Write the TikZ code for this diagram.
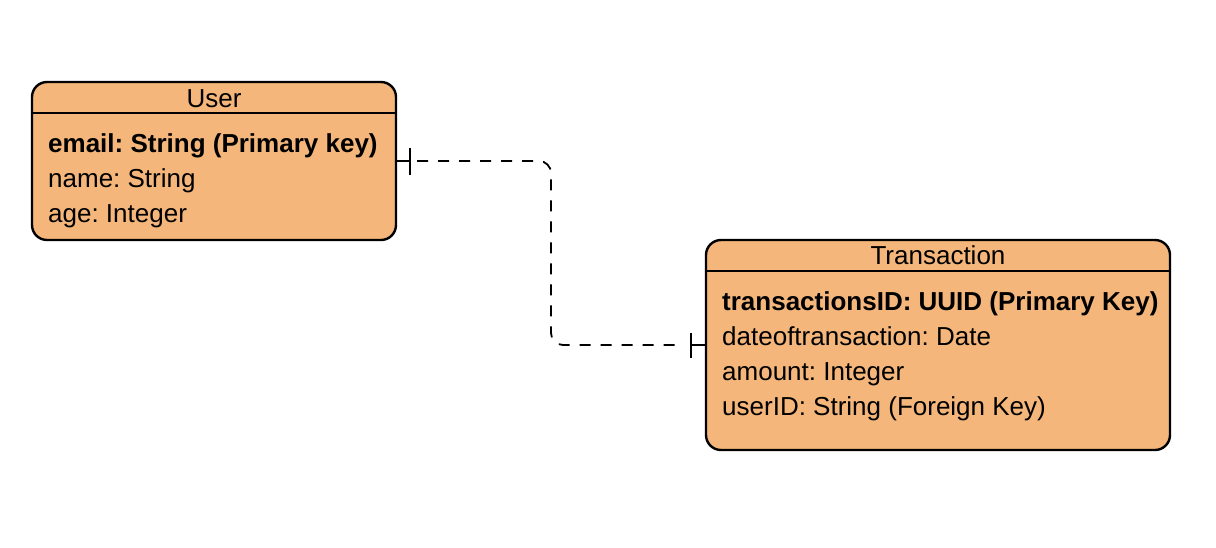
\documentclass[tikz,border=0pt]{standalone}
\usepackage{fontspec}
\setmainfont{Liberation Sans}
\usetikzlibrary{calc}
\definecolor{entfill}{HTML}{F4B67A}
\tikzset{
  entity/.style={draw=black, fill=entfill, line width=2.4pt, rounded corners=15pt, inner sep=0pt},
  hdrline/.style={draw=black, line width=1.8pt},
  attr/.style={anchor=base west, inner sep=0pt, font=\fontsize{26}{30}\selectfont},
  hdr/.style={anchor=base, inner sep=0pt, font=\fontsize{26}{30}\selectfont},
  conn/.style={draw=black, line width=1.8pt},
  dashconn/.style={conn, dash pattern=on 11pt off 10pt, rounded corners=12pt}
}
\frenchspacing
\begin{document}
\begin{tikzpicture}[x=1pt,y=-1pt]
\useasboundingbox (0,0) rectangle (1216,547);
% User entity
\node[entity, minimum width=364pt, minimum height=158pt] (user) at (214,161) {};
\draw[hdrline] (user.west |- 0,113) -- (user.east |- 0,113);
\node[hdr] (userhdr) at (214,107) {User};
\node[attr] (u1) at (48,152) {\bfseries email: String (Primary key)};
\node[attr] (u2) at (48,187) {name: String};
\node[attr] (u3) at (48,222) {age: Integer};
% Transaction entity
\node[entity, minimum width=464pt, minimum height=210pt] (trans) at (938,345) {};
\draw[hdrline] (trans.west |- 0,271) -- (trans.east |- 0,271);
\node[hdr] (transhdr) at (938,264) {Transaction};
\node[attr] (t1) at (722,310) {\bfseries transactionsID: UUID (Primary Key)};
\node[attr] (t2) at (722,345) {dateoftransaction: Date};
\node[attr] (t3) at (722,380) {amount: Integer};
\node[attr] (t4) at (722,415) {userID: String (Foreign Key)};
% connector
\coordinate (ua) at ($(user.east)+(13,0)$);
\coordinate (ta) at ($(trans.west)+(-14,0)$);
\coordinate (ds) at ($(ua)+(7,0)$);
\coordinate (de) at ($(ta)+(-8,0)$);
\coordinate (mid) at ($(user.east)!0.5!(trans.west)$);
\draw[conn] (user.east) -- (ua);
\draw[conn] (ta) -- (trans.west);
\draw[dashconn] (ds) -| (mid) |- (de);
\draw[conn] ($(ua)+(0,-13)$) -- ($(ua)+(0,14)$);
\draw[conn] ($(ta)+(0,-12)$) -- ($(ta)+(0,13)$);
\end{tikzpicture}
\end{document}
